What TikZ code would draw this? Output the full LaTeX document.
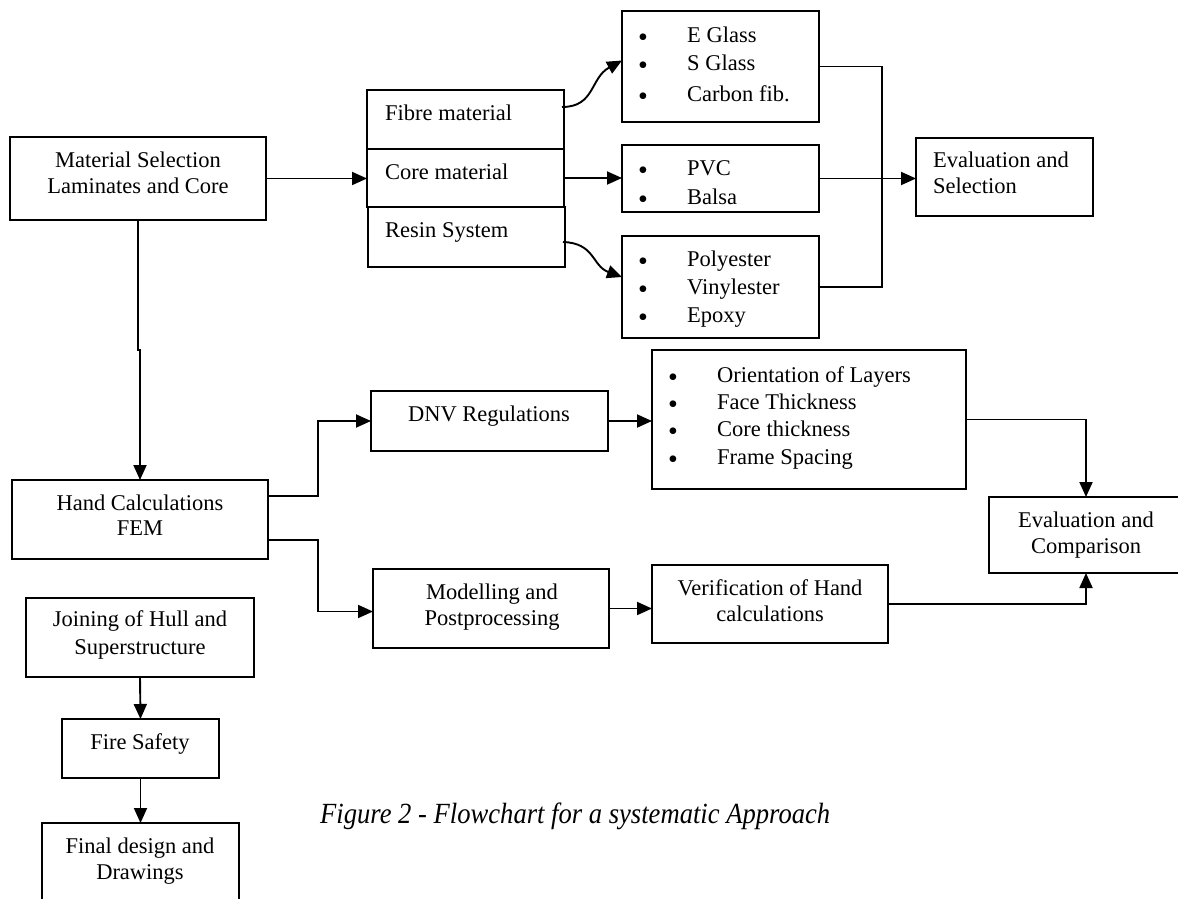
\documentclass[tikz,border=0pt]{standalone}
\usepackage{fontspec}
\setmainfont{Liberation Serif}
\usetikzlibrary{arrows.meta}
\tikzset{
  bx/.style={draw, line width=1.9pt, anchor=north west, inner sep=0pt, outer sep=0pt},
  txt/.style={font=\fontsize{22.5}{26}\selectfont, inner sep=0pt, yshift=-5pt},
  bul/.style={font=\fontsize{28}{28}\selectfont, inner sep=0pt, anchor=center, yshift=-5pt},
  arr/.style={line width=1.9pt, -{Triangle[length=15pt,width=13pt]}},
  ln/.style={line width=1.9pt},
}
\begin{document}
\begin{tikzpicture}[x=1pt,y=-1pt]
\useasboundingbox (0,0) rectangle (1178,899);
% boxes
\node[bx, minimum width=256pt, minimum height=83pt] (mat) at (10,137) {};
\node[bx, minimum width=197pt, minimum height=59pt] (fib) at (367,90) {};
\node[bx, minimum width=197pt, minimum height=58pt] (cor) at (367,149) {};
\node[bx, minimum width=197pt, minimum height=60pt] (res) at (368,207) {};
\node[bx, minimum width=197pt, minimum height=111pt] (gls) at (622,11) {};
\node[bx, minimum width=197pt, minimum height=67pt] (pvc) at (622,145) {};
\node[bx, minimum width=197pt, minimum height=102pt] (pol) at (622,236) {};
\node[bx, minimum width=177pt, minimum height=78pt] (evs) at (916,138) {};
\node[bx, minimum width=256pt, minimum height=79pt] (hnd) at (12,480) {};
\node[bx, minimum width=237pt, minimum height=60pt] (dnv) at (371,391) {};
\node[bx, minimum width=314pt, minimum height=139pt] (ori) at (652,350) {};
\node[bx, minimum width=236pt, minimum height=79pt] (mod) at (373,569) {};
\node[bx, minimum width=236pt, minimum height=78pt] (ver) at (652,565) {};
\node[bx, minimum width=200pt, minimum height=76pt] (evc) at (989,497) {};
\node[bx, minimum width=228pt, minimum height=79pt] (joi) at (26,598) {};
\node[bx, minimum width=157pt, minimum height=59pt] (fir) at (62,719) {};
\node[bx, minimum width=197pt, minimum height=100pt] (fin) at (42,823) {};
% texts
\node[txt, anchor=mid] (t1) at (138,160) {Material Selection};
\node[txt, anchor=mid] (t2) at (138,186) {Laminates and Core};
\node[txt, anchor=mid west] (t3) at (385,113) {Fibre material};
\node[txt, anchor=mid west] (t4) at (385,172) {Core material};
\node[txt, anchor=mid west] (t5) at (385,230) {Resin System};
\foreach \y/\t [count=\i] in {35/E Glass, 63/S Glass, 94/Carbon fib.}{
  \node[bul] (gb\i) at (643,\y) {•};
  \node[txt, anchor=mid west] (gt\i) at (687,\y) {\t};
}
\begin{scope}
\clip (pvc.north west) rectangle ([yshift=7pt]pvc.south east);
\foreach \y/\t [count=\i] in {168/PVC, 197/Balsa}{
  \node[bul] (pb\i) at (643,\y) {•};
  \node[txt, anchor=mid west] (pt\i) at (687,\y) {\t};
}
\end{scope}
\foreach \y/\t [count=\i] in {259/Polyester, 287/Vinylester, 315/Epoxy}{
  \node[bul] (rb\i) at (643,\y) {•};
  \node[txt, anchor=mid west] (rt\i) at (687,\y) {\t};
}
\node[txt, anchor=mid west] (t6) at (933,160) {Evaluation and};
\node[txt, anchor=mid west] (t7) at (933,186) {Selection};
\node[txt, anchor=mid] (t8) at (140,503) {Hand Calculations};
\node[txt, anchor=mid] (t9) at (140,528) {FEM};
\node[txt, anchor=mid] (t10) at (489,414) {DNV Regulations};
\foreach \y/\t [count=\i] in {375/Orientation of Layers, 402/Face Thickness, 429/Core thickness, 457/Frame Spacing}{
  \node[bul] (ob\i) at (673,\y) {•};
  \node[txt, anchor=mid west] (ot\i) at (717,\y) {\t};
}
\node[txt, anchor=mid] (t11) at (492,592) {Modelling and};
\node[txt, anchor=mid] (t12) at (492,618) {Postprocessing};
\node[txt, anchor=mid] (t13) at (770,588) {Verification of Hand};
\node[txt, anchor=mid] (t14) at (770,614) {calculations};
\node[txt, anchor=mid] (t15) at (1086,520) {Evaluation and};
\node[txt, anchor=mid] (t16) at (1086,546) {Comparison};
\node[txt, anchor=mid] (t17) at (140,619) {Joining of Hull and};
\node[txt, anchor=mid] (t18) at (140,647) {Superstructure};
\node[txt, anchor=mid] (t19) at (140,742) {Fire Safety};
\node[txt, anchor=mid] (t20) at (140,846) {Final design and};
\node[txt, anchor=mid] (t21) at (140,872) {Drawings};
\node[inner sep=0pt, anchor=mid west, font=\fontsize{26.6}{30}\selectfont\itshape, yscale=1.1] (cap) at (320,821) {Figure 2 - Flowchart for a systematic Approach};
% connectors
\coordinate (f1) at (562,107);
\coordinate (r1) at (563,242);
\coordinate (colx) at (882,0);
\coordinate (jx) at (318,0);
\coordinate (ex) at (1086,0);
\draw[arr] (mat.east) -- (cor.west |- mat.east);
\draw[arr] (cor.east) -- (pvc.west |- cor.east);
\draw[arr] (f1) .. controls (595,107) and (590,78) .. ([yshift=6pt]gls.west);
\draw[arr] (r1) .. controls (595,243) and (592,266) .. ([yshift=10pt]pol.west);
\draw[ln] (gls.east) -| (colx |- pol.east) -- (pol.east);
\draw[arr] (pvc.east) -- (evs.west |- pvc.east);
\draw[arr] (mat.south) -- ++(0,130) -| (hnd.north);
\coordinate (h1) at ([yshift=23.5pt]hnd.east);
\coordinate (h2) at ([yshift=-20.5pt]hnd.east);
\draw[arr] (h1) -- (h1 -| jx) |- (dnv.west);
\draw[arr] (h2) -- (h2 -| jx) |- ([yshift=-3pt]mod.west);
\draw[arr] (dnv.east) -- (ori.west |- dnv.east);
\draw[arr] (ori.east) -| (ex |- evc.north);
\draw[arr] (mod.east) -- (ver.west |- mod.east);
\draw[arr] (ver.east) -| (ex |- evc.south);
\draw[arr] (joi.south) -- (fir.north);
\draw[arr] (fir.south) -- (fin.north);
\end{tikzpicture}
\end{document}
